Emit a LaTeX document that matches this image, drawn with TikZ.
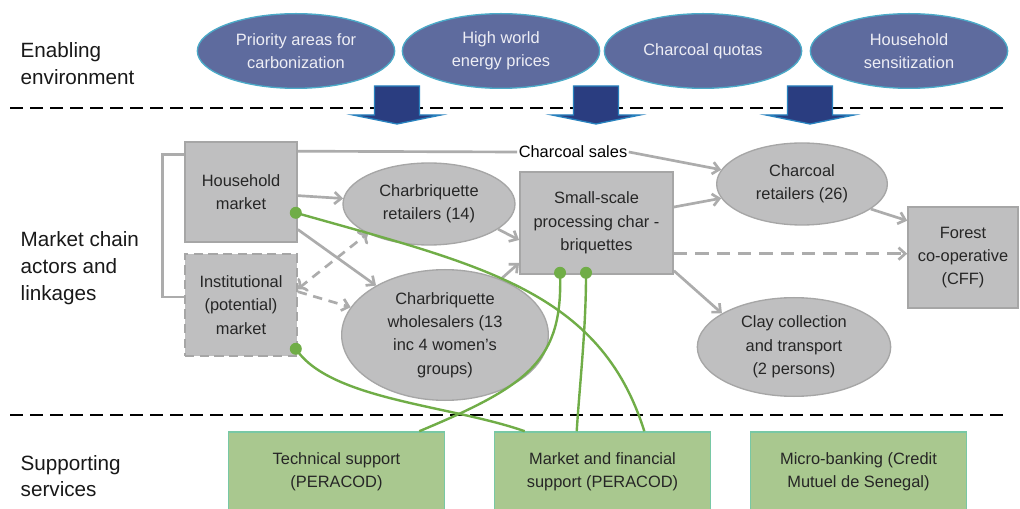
\documentclass[tikz,border=0pt]{standalone}
\usepackage{fontspec}
\setmainfont{Liberation Sans}
\usetikzlibrary{shapes.geometric,arrows.meta,calc}

\definecolor{envfill}{RGB}{94,107,158}
\definecolor{envline}{RGB}{75,170,200}
\definecolor{envtext}{RGB}{238,238,245}
\definecolor{actorfill}{RGB}{191,191,192}
\definecolor{actorline}{RGB}{166,166,166}
\definecolor{flowgray}{RGB}{172,172,172}
\definecolor{servfill}{RGB}{169,200,143}
\definecolor{servline}{RGB}{120,200,165}
\definecolor{linkgreen}{RGB}{112,173,71}
\definecolor{pushfill}{RGB}{42,61,128}
\definecolor{pushline}{RGB}{40,130,190}

\tikzstyle{env}=[ellipse,draw=envline,fill=envfill,line width=1pt,text=envtext,minimum width=148pt,minimum height=56pt,inner sep=0pt,align=center]
\tikzstyle{actor}=[ellipse,draw=actorline,fill=actorfill,line width=1pt,text=black!85,inner sep=0pt,align=center]
\tikzstyle{actorbox}=[rectangle,draw=actorline,fill=actorfill,line width=1.2pt,text=black!85,inner sep=0pt,align=center]
\tikzstyle{service}=[rectangle,draw=servline,fill=servfill,line width=1.2pt,text=black!85,minimum width=162pt,minimum height=100pt,text depth=43pt,inner sep=0pt,align=center]
\tikzstyle{flow}=[draw=flowgray,line width=2pt,-{Straight Barb[length=5pt,width=9pt]}]
\tikzstyle{link}=[draw=linkgreen,line width=1.8pt]
\tikzstyle{linkdot}=[circle,fill=linkgreen,minimum size=9pt,inner sep=0pt]
\tikzstyle{tier}=[anchor=west,align=left,text=black!90,font=\fontsize{15.5}{20}\selectfont]
\tikzstyle{divider}=[black,line width=2.2pt,dash pattern=on 10pt off 5pt]

\begin{document}
\begin{tikzpicture}[x=0.75pt,y=-0.75pt,font=\fontsize{12.3}{17.5}\selectfont]
    \fill[white] (0,0) rectangle (1020,509);
    \useasboundingbox (0,0) rectangle (1020,509);
    \clip (0,0) rectangle (1020,509);
    %Tiers
    \node[tier] (enabling) at (16,63.5) {Enabling\\environment};
    \node[tier] (chain) at (16,268) {Market chain\\actors and\\linkages};
    \node[tier] (supporting) at (16,476) {Supporting\\services};
    \draw[divider] (10,108) -- (1005,108);
    \draw[divider] (10,415) -- (1005,415);
    %Enabling environment
    \foreach \cx/\name/\txt in {296/prio/{Priority areas for\\carbonization},
                                501/prices/{High world\\energy prices},
                                703/quotas/{Charcoal quotas},
                                909/sensit/{Household\\sensitization}}
    \node[env] (\name) at (\cx,51) {\txt};
    \foreach \cx in {397,596,810}
    \draw[pushline,fill=pushfill,line width=1pt] (\cx-22.5,86) -- (\cx+22.5,86) -- (\cx+22.5,115)
        -- (\cx+44,115) -- (\cx,124) -- (\cx-44,115) -- (\cx-22.5,115) -- cycle;
    %Market chain actors
    \node[actorbox,minimum width=84pt,minimum height=75pt] (household) at (241,192) {Household\\market};
    \node[actorbox,dash pattern=on 7pt off 4pt,minimum width=84pt,minimum height=76.5pt] (inst) at (241,305) {Institutional\\(potential)\\market};
    \node[actor,minimum width=129pt,minimum height=61.5pt] (cbret) at (429,204) {Charbriquette\\retailers (14)};
    \node[actor,minimum width=155pt,minimum height=98pt] (wholes) at (445,335) {Charbriquette\\wholesalers (13\\inc 4 women's\\groups)};
    \node[actorbox,minimum width=115pt,minimum height=76.5pt] (small) at (596.5,223) {Small-scale\\processing char -\\briquettes};
    \node[actor,minimum width=128pt,minimum height=61.5pt] (chret) at (802,184) {Charcoal\\retailers (26)};
    \node[actorbox,minimum width=82.5pt,minimum height=76pt] (forest) at (963,257.5) {Forest\\co-operative\\(CFF)};
    \node[actor,minimum width=145pt,minimum height=74pt] (clay) at (794,347) {Clay collection\\and transport\\(2 persons)};
    \node[inner sep=1pt] (sales) at (573,152) {Charcoal sales};
    %Flows
    \draw[draw=flowgray,line width=2pt] ([yshift=-10pt]household.north west) -- ++(-22,0) |- ([yshift=6pt]inst.west);
    \draw[draw=flowgray,line width=2pt] ([yshift=-7.5pt]household.north east) -- (sales.west);
    \draw[flow] (sales.east) -- (chret.170);
    \draw[flow] (household) -- (cbret);
    \draw[flow] ([yshift=10pt]household.south east) -- (wholes);
    \draw[flow,<->,dash pattern=on 7pt off 5pt] ([yshift=12pt]inst.east) -- (cbret.south west);
    \draw[flow,dash pattern=on 7pt off 5pt] ([yshift=10pt]inst.east) -- (wholes);
    \draw[flow] (cbret.-20) -- ([yshift=-12.75pt]small.west);
    \draw[flow] (wholes.45) -- ([yshift=-30pt]small.west);
    \draw[flow] ([yshift=12pt]small.east) -- (chret.190);
    \draw[flow] (chret.-20) -- ([yshift=-11pt]forest.north west);
    \draw[flow,dash pattern=on 10pt off 6pt] ([yshift=-23pt]small.east) -- ([yshift=-23pt]small.east -| forest.west);
    \draw[flow] ([yshift=3pt]small.south east) -- (clay.155);
    %Supporting services
    \node[service] (tech) at (336.5,498.7) {Technical support\\(PERACOD)};
    \node[service] (finsup) at (602.5,498.7) {Market and financial\\support (PERACOD)};
    \node[service] (micro) at (858.5,498.7) {Micro-banking (Credit\\Mutuel de Senegal)};
    %Support links
    \draw[link] ($(household.south east)+(-2,-30)$) node[linkdot]{} .. controls (480,265) and (600,290) .. ($(finsup.north east)+(-67,0)$);
    \draw[link] ($(inst.south east)+(-2,-8)$) node[linkdot]{} .. controls (330,400) and (450,405) .. ($(finsup.north west)+(31,0)$);
    \draw[link] ($(small.south west)+(41,-2)$) node[linkdot]{} .. controls (563,360) and (530,385) .. ($(tech.north east)+(-26,0)$);
    \draw[link] ($(small.south west)+(67,-2)$) node[linkdot]{} .. controls (586,330) and (580,380) .. ($(finsup.north west)+(83,0)$);
\end{tikzpicture}
\end{document}
